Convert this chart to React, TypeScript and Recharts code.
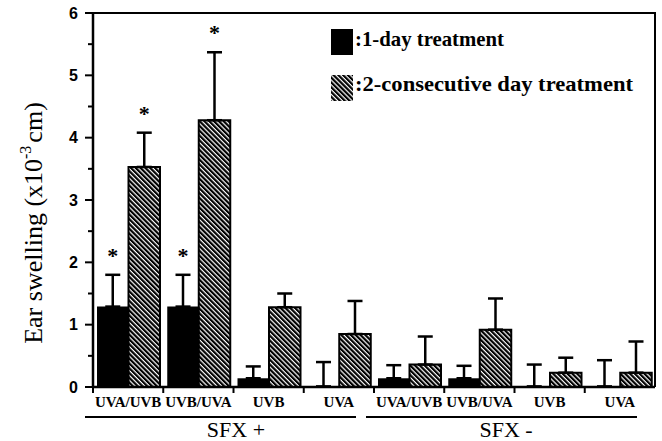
import React from "react";
import { BarChart, Bar, XAxis, YAxis, ErrorBar, LabelList, Legend } from "recharts";

const categories = ["UVA/UVB", "UVB/UVA", "UVB", "UVA", "UVA/UVB", "UVB/UVA", "UVB", "UVA"];
const groups = ["SFX +", "SFX +", "SFX +", "SFX +", "SFX -", "SFX -", "SFX -", "SFX -"];
const oneDay = [1.29, 1.29, 0.14, 0.01, 0.14, 0.14, 0.01, 0.01];
const oneDayErr = [0.51, 0.51, 0.19, 0.39, 0.21, 0.2, 0.35, 0.42];
const oneDayStar = [true, true, false, false, false, false, false, false];
const twoDay = [3.53, 4.28, 1.28, 0.85, 0.36, 0.92, 0.23, 0.23];
const twoDayErr = [0.55, 1.09, 0.22, 0.53, 0.45, 0.5, 0.24, 0.5];
const twoDayStar = [true, true, false, false, false, false, false, false];
const yTicks = [0, 0.5, 1, 1.5, 2, 2.5, 3, 3.5, 4, 4.5, 5, 5.5, 6];

const data = categories.map((c, i) => ({
  cat: c,
  group: groups[i],
  one: oneDay[i],
  oneErr: [0, oneDayErr[i]],
  oneStar: oneDayStar[i] ? "*" : "",
  two: twoDay[i],
  twoErr: [0, twoDayErr[i]],
  twoStar: twoDayStar[i] ? "*" : "",
}));

const SERIF = "'Liberation Serif', 'Times New Roman', serif";
const SANS = "'Liberation Sans', Arial, sans-serif";
const W = 662;
const H = 441;
const MARGIN = { top: 13, right: 7, left: 0, bottom: 0 };
const Y_W = 93;
const X_H = 54;
const BAND = (W - MARGIN.right - Y_W) / 8;
const LEGEND_W = [149, 278];

const YTick = (props: any) => {
  const { x, y, payload } = props;
  const v = payload.value;
  const major = Number.isInteger(v);
  return (
    <g>
      <line x1={x - (major ? 8 : 5)} x2={x} y1={y} y2={y} stroke="#000" strokeWidth={2} />
      {major && (
        <text x={x - 15} y={y} textAnchor="end" dominantBaseline="central" fontFamily={SANS} fontWeight="bold" fontSize={16} fill="#000">
          {v}
        </text>
      )}
    </g>
  );
};

const XTick = (props: any) => {
  const { x, y, payload, index } = props;
  const left = x - BAND / 2;
  const g = groups[index];
  const first = index === 0 || groups[index - 1] !== g;
  const span = groups.filter((k) => k === g).length;
  const mid = g === "SFX +" ? 143 : 132;
  return (
    <g>
      <line x1={left} x2={left} y1={y} y2={y + 6} stroke="#000" strokeWidth={2} />
      <text x={x} y={y + 20} textAnchor="middle" fontFamily={SERIF} fontWeight="bold" fontSize={15} fill="#000">
        {payload.value}
      </text>
      {first && (
        <g>
          <line x1={left - 8} x2={left + span * BAND - 18} y1={y + 30} y2={y + 30} stroke="#000" strokeWidth={2} />
          <text x={left + mid} y={y + 50} textAnchor="middle" fontFamily={SERIF} fontSize={22} fill="#000">
            {g}
          </text>
        </g>
      )}
    </g>
  );
};

const makeStar = (valKey: "one" | "two", errKey: "oneErr" | "twoErr") => (p: any) => {
  const { x, y, width, height, value, index } = p;
  if (!value) return null;
  const d = data[index];
  const perUnit = Math.abs(height) / d[valKey];
  const capY = y - d[errKey][1] * perUnit;
  return (
    <text x={x + width / 2} y={capY - 12} textAnchor="middle" fontFamily={SERIF} fontWeight="bold" fontSize={22} fill="#000">
      {value}
    </text>
  );
};

const LegendBox = (props: any) => {
  const items = props.payload || [];
  return (
    <svg width={330} height={80}>
      <defs>
        <pattern id="hatchLegend" patternUnits="userSpaceOnUse" width={3.4} height={3.4} patternTransform="rotate(-45)">
          <rect width={3.4} height={3.4} fill="#fff" />
          <rect width={2.2} height={3.4} fill="#000" />
        </pattern>
      </defs>
      {items.map((it: any, i: number) => (
        <g key={i}>
          <rect x={1} y={4 + i * 46} width={22} height={26} fill={it.dataKey === "one" ? "#000" : "url(#hatchLegend)"} />
          <text x={25} y={21 + i * 45} fontFamily={SERIF} fontWeight="bold" fontSize={21} fill="#000" textLength={LEGEND_W[i]} lengthAdjust="spacingAndGlyphs">
            {it.value}
          </text>
        </g>
      ))}
    </svg>
  );
};

const YLabel = () => (
  <text transform="rotate(-90, 42, 223)" x={42} y={223} textAnchor="middle" fontFamily={SERIF} fontSize={26} fill="#000">
    Ear swelling (x10
    <tspan dy={-11} fontSize={16}>-3</tspan>
    <tspan dy={11} dx={3}>cm)</tspan>
  </text>
);

export default function App() {
  return (
    <div style={{ position: "absolute", left: 0, top: 0, width: W, height: H, background: "#fff" }}>
      <BarChart width={W} height={H} data={data} margin={MARGIN} barGap={0} barSize={31.5}>
        <defs>
          <pattern id="hatch" patternUnits="userSpaceOnUse" width={3.4} height={3.4} patternTransform="rotate(-45)">
            <rect width={3.4} height={3.4} fill="#fff" />
            <rect width={2.2} height={3.4} fill="#000" />
          </pattern>
        </defs>
        <XAxis dataKey="cat" height={X_H} interval={0} tickSize={0} tickMargin={0} tick={<XTick />} tickLine={false} axisLine={{ stroke: "#000", strokeWidth: 2.5 }} />
        <YAxis width={Y_W} domain={[0, 6]} ticks={yTicks} interval={0} tickSize={0} tickMargin={0} tick={<YTick />} tickLine={false} axisLine={{ stroke: "#000", strokeWidth: 2.5 }} />
        <Legend layout="vertical" align="center" verticalAlign="middle" content={<LegendBox />} wrapperStyle={{ position: "absolute", left: 330, top: 25, width: 330, height: 80 }} />
        <Bar dataKey="one" name=":1-day treatment" fill="#000" isAnimationActive={false}>
          <ErrorBar dataKey="oneErr" width={7.5} stroke="#000" strokeWidth={2.5} direction="y" />
          <LabelList dataKey="oneStar" content={makeStar("one", "oneErr")} />
        </Bar>
        <Bar dataKey="two" name=":2-consecutive day treatment" fill="url(#hatch)" stroke="#000" strokeWidth={2} isAnimationActive={false}>
          <ErrorBar dataKey="twoErr" width={7.5} stroke="#000" strokeWidth={2.5} direction="y" />
          <LabelList dataKey="twoStar" content={makeStar("two", "twoErr")} />
        </Bar>
        <YLabel />
      </BarChart>
      {/* top and right edges of the plot frame */}
      <div
        style={{
          position: "absolute",
          left: Y_W - 1,
          top: MARGIN.top - 1.25,
          width: W - MARGIN.right - Y_W + 2.25,
          height: H - X_H - MARGIN.top + 1,
          boxSizing: "border-box",
          borderTop: "2.5px solid #000",
          borderRight: "2.5px solid #000",
          pointerEvents: "none",
        }}
      />
    </div>
  );
}
